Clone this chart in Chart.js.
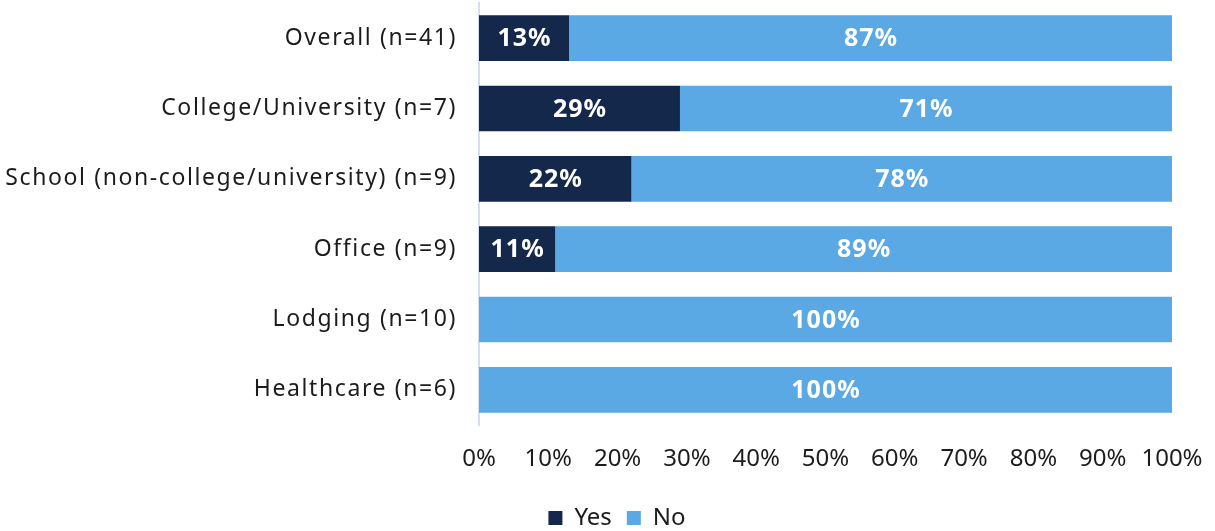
<!DOCTYPE html>
<html>
<head>
<meta charset="utf-8">
<script src="https://cdn.jsdelivr.net/npm/chart.js@4.4.1/dist/chart.umd.min.js"></script>
<style>
  html, body { margin: 0; padding: 0; background: #fff; }
  #wrap { width: 1215px; height: 531px; position: relative; }
</style>
</head>
<body>
<div id="wrap"><canvas id="chart"></canvas></div>
<script>
// categories and shares (percent)
const categories = [
    'Overall (n=41)',
    'College/University (n=7)',
    'School (non-college/university) (n=9)',
    'Office (n=9)',
    'Lodging (n=10)',
    'Healthcare (n=6)'
];
const yesValues = [13, 29, 22, 11, 0, 0];
const noValues = [87, 71, 78, 89, 100, 100];
const tickValues = [0, 10, 20, 30, 40, 50, 60, 70, 80, 90, 100];

const FONT = '"Noto Sans", "Open Sans", sans-serif';
const TEXT = '#1c1c1c';

// white bold percent in the middle of each segment
const barLabels = {
    id: 'barLabels',
    afterDatasetsDraw(chart) {
        const ctx = chart.ctx;
        ctx.save();
        ctx.font = 'bold 25px ' + FONT;
        ctx.letterSpacing = '1px';
        ctx.fillStyle = '#ffffff';
        ctx.textAlign = 'center';
        ctx.textBaseline = 'middle';
        chart.data.datasets.forEach((ds, i) => {
            chart.getDatasetMeta(i).data.forEach((bar, j) => {
                const v = ds.data[j];
                if (!v) return;
                ctx.fillText(v + '%', (bar.x + bar.base) / 2 + 0.5, bar.y + 1);
            });
        });
        ctx.restore();
    }
};

// wider tracking for the category names
function spaceLabels(axis, spacing) {
    if (axis._spaced) return;
    const draw = axis.drawLabels;
    axis.drawLabels = function(area) {
        this.ctx.save();
        this.ctx.letterSpacing = spacing;
        draw.call(this, area);
        this.ctx.restore();
    };
    axis._spaced = true;
}

new Chart(document.getElementById('chart'), {
    type: 'bar',
    data: {
        labels: categories,
        datasets: [
            { label: 'Yes', data: yesValues, backgroundColor: '#14284b', barPercentage: 0.65, categoryPercentage: 1 },
            { label: 'No', data: noValues, backgroundColor: '#5aa8e4', barPercentage: 0.65, categoryPercentage: 1 }
        ]
    },
    options: {
        indexAxis: 'y',
        responsive: true,
        maintainAspectRatio: false,
        animation: false,
        // negative right padding moves the centred legend a little to the right
        layout: { padding: { top: 3, right: -19, bottom: -9, left: 0 } },
        plugins: {
            legend: {
                position: 'bottom',
                labels: {
                    font: { family: FONT, size: 24 },
                    color: TEXT,
                    boxWidth: 14,
                    boxHeight: 14,
                    padding: 15
                }
            },
            tooltip: { enabled: false }
        },
        scales: {
            x: {
                stacked: true,
                min: 0,
                max: 100,
                afterBuildTicks(axis) {
                    axis.ticks = tickValues.map(v => ({ value: v }));
                },
                afterFit(axis) {
                    axis.height = 66;
                    axis.paddingLeft = 0;
                    axis.paddingRight = 43;
                },
                grid: { display: false, drawTicks: false },
                border: { display: false },
                ticks: {
                    padding: 20,
                    color: TEXT,
                    font: { family: FONT, size: 24 },
                    maxRotation: 0,
                    autoSkip: false,
                    callback: v => v + '%'
                }
            },
            y: {
                stacked: true,
                grid: { display: false, drawTicks: false },
                border: { display: true, color: '#d3def0', width: 2 },
                afterFit(axis) {
                    axis.width = 479;
                    axis.paddingTop = 0;
                    axis.paddingBottom = 0;
                    spaceLabels(axis, '1.6px');
                },
                ticks: {
                    padding: 22,
                    color: TEXT,
                    font: { family: FONT, size: 23 }
                }
            }
        }
    },
    plugins: [barLabels]
});
</script>
</body>
</html>
